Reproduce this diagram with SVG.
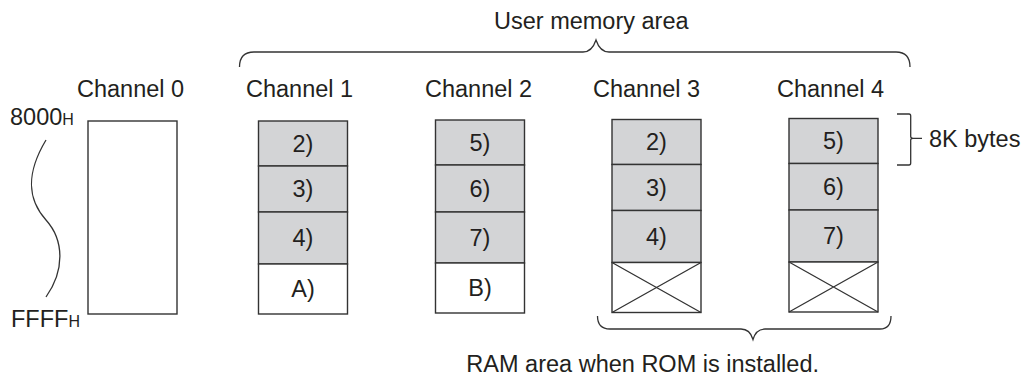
<svg xmlns="http://www.w3.org/2000/svg" width="1028" height="379" viewBox="0 0 1028 379">
<style>
text{font-family:"Liberation Sans",Arial,sans-serif;font-size:23.5px;fill:#231f20}
.c{text-anchor:middle}
.box{fill:#fff;stroke:#333;stroke-width:1.4}
.g{fill:#d3d4d6;stroke:#333;stroke-width:1.4}
.w{fill:#fff;stroke:#333;stroke-width:1.4}
.ln{fill:none;stroke:#333;stroke-width:1.3}
</style>
<rect width="1028" height="379" fill="#fff"/>

<g id="addr">
<text x="10" y="125">8000<tspan font-size="16">H</tspan></text>
<text x="11" y="327">FFFF<tspan font-size="16">H</tspan></text>
<path class="ln" d="M46,140 C25,175 28,200 46,220 C64,240 65,270 46,297"/>
</g>

<g id="ch0">
<text x="77" y="97">Channel 0</text>
<rect class="box" x="88" y="121" width="89" height="193"/>
</g>

<g id="ch1">
<text x="246" y="97">Channel 1</text>
<rect class="g" x="258.5" y="121" width="89" height="45"/>
<rect class="g" x="258.5" y="166" width="89" height="46"/>
<rect class="g" x="258.5" y="212" width="89" height="52"/>
<rect class="w" x="258.5" y="264" width="89" height="50"/>
<text class="c" x="303" y="151.5">2)</text>
<text class="c" x="303" y="197">3)</text>
<text class="c" x="303" y="246">4)</text>
<text class="c" x="303" y="297">A)</text>
</g>

<g id="ch2">
<text x="425" y="97">Channel 2</text>
<rect class="g" x="435.5" y="120" width="89" height="45"/>
<rect class="g" x="435.5" y="165" width="89" height="47"/>
<rect class="g" x="435.5" y="212" width="89" height="51"/>
<rect class="w" x="435.5" y="263" width="89" height="50"/>
<text class="c" x="480" y="150.5">5)</text>
<text class="c" x="480" y="196.5">6)</text>
<text class="c" x="480" y="245.5">7)</text>
<text class="c" x="480" y="296">B)</text>
</g>

<g id="ch3">
<text x="593" y="97">Channel 3</text>
<rect class="g" x="612" y="119.5" width="89" height="45"/>
<rect class="g" x="612" y="164.5" width="89" height="46"/>
<rect class="g" x="612" y="210.5" width="89" height="52"/>
<rect class="w" x="612" y="262.5" width="89" height="50"/>
<path class="ln" d="M612,262.5 L701,312.5 M701,262.5 L612,312.5"/>
<text class="c" x="656.5" y="150">2)</text>
<text class="c" x="656.5" y="195.5">3)</text>
<text class="c" x="656.5" y="244.5">4)</text>
</g>

<g id="ch4">
<text x="777" y="97">Channel 4</text>
<rect class="g" x="789" y="118.5" width="89" height="45"/>
<rect class="g" x="789" y="163.5" width="89" height="46.5"/>
<rect class="g" x="789" y="210" width="89" height="52"/>
<rect class="w" x="789" y="262" width="89" height="50"/>
<path class="ln" d="M789,262 L878,312 M878,262 L789,312"/>
<text class="c" x="833.5" y="149">5)</text>
<text class="c" x="833.5" y="195">6)</text>
<text class="c" x="833.5" y="244">7)</text>
</g>

<g id="braces">
<path class="ln" d="M239.5,67 Q239.5,52 254,52 L583,52 Q592,52 596,40 Q600,52 609,52 L896,52 Q910,52 910,67"/>
<text x="494" y="29">User memory area</text>
<path class="ln" d="M897,114 L909,114 Q910.7,114 910.7,116 L910.7,136.5 Q910.7,138.3 913,138.3 L922,138.3 M913,138.3 Q910.7,138.3 910.7,140 L910.7,163 Q910.7,165 909,165 L897,165"/>
<text x="929" y="147">8K bytes</text>
<path class="ln" d="M597.5,316 Q597.5,329 610,329 L741,329 Q750,329 753,339.5 Q756,329 765,329 L880,329 Q891,329 891,316"/>
<text x="819" y="372" text-anchor="end">RAM area when ROM is installed.</text>
</g>
</svg>
